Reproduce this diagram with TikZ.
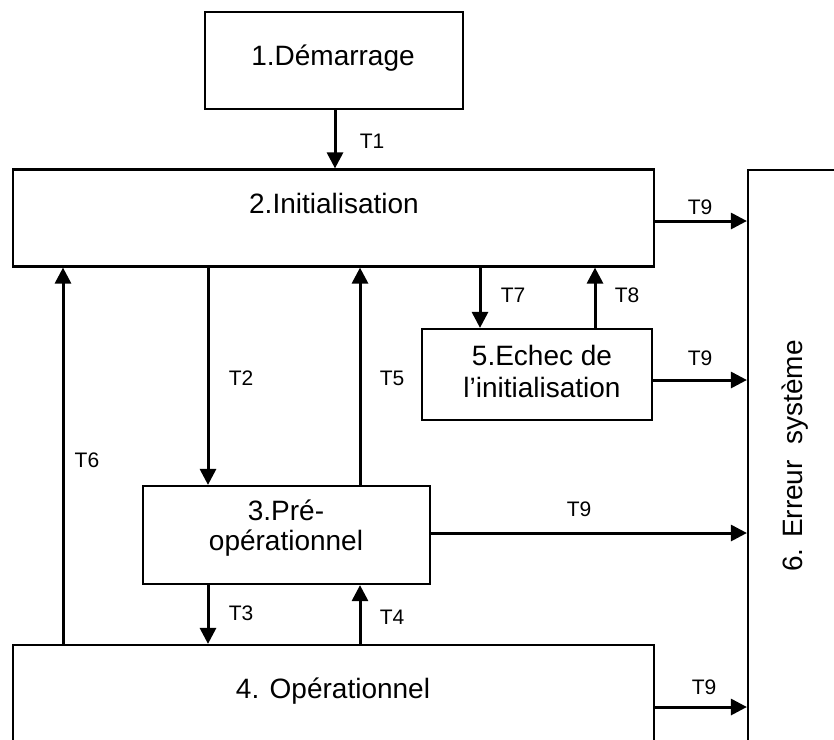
\documentclass[tikz,border=0pt]{standalone}
\usepackage{fontspec}
\setmainfont{Liberation Sans}
\usetikzlibrary{arrows.meta}

\begin{document}
\begin{tikzpicture}[x=1pt,y=-1pt,
  state/.style={draw=black, line width=2.2pt, rectangle, inner sep=0pt, fill=none},
  title/.style={font=\fontsize{28}{31}\selectfont, text=black, align=center, inner sep=0pt},
  tlabel/.style={font=\fontsize{21}{24}\selectfont, text=black, inner sep=0pt},
  arr/.style={line width=3pt, -{Triangle[length=16pt,width=16pt]}}]

\useasboundingbox (0,0) rectangle (834,739);
\clip (0,0) rectangle (834,739);

% state boxes (the last two run past the frame)
\node[state, minimum width=258pt, minimum height=97pt] (start) at (334,60.5) {};
\node[state, minimum width=641pt, minimum height=97pt] (init) at (333.5,218) {};
\node[state, minimum width=287pt, minimum height=98pt] (preop) at (286.5,535) {};
\node[state, minimum width=641pt, minimum height=155pt] (oper) at (333.5,722.5) {};
\node[state, minimum width=230pt, minimum height=91pt] (fail) at (537,374.5) {};
\node[state, minimum width=152pt, minimum height=630pt] (err) at (824,485) {};

% box titles (base anchor of a two-line title sits on its last line)
\node[title, anchor=base] (tstart) at (333,65) {1.Démarrage};
\node[title, anchor=base] (tinit) at (334,213) {2.Initialisation};
\node[title, anchor=base, font=\fontsize{28}{30}\selectfont] (tpreop) at (286,550) {3.Pré-\\opérationnel};
\node[title, anchor=base] (toper) at (333,698) {4. Opérationnel};
\node[title, anchor=base, font=\fontsize{28}{32}\selectfont] (tfail) at (542,397) {5.Echec de\\l’initialisation};
\node[title, rotate=90] (terr) at (795,456) {6. Erreur\ \ système};

% vertical connector columns
\coordinate (x1) at (335,0);
\coordinate (x2) at (208,0);
\coordinate (x5) at (360,0);
\coordinate (x6) at (63,0);
\coordinate (x7) at (480,0);
\coordinate (x8) at (595,0);
% horizontal connector rows
\coordinate (y9a) at (0,221);
\coordinate (y9b) at (0,380);
\coordinate (y9c) at (0,533);
\coordinate (y9d) at (0,707);

% transitions
\draw[arr] (x1 |- start.south) -- (x1 |- init.north);
\draw[arr] (x2 |- init.south) -- (x2 |- preop.north);
\draw[arr] (x5 |- preop.north) -- (x5 |- init.south);
\draw[arr] (x6 |- oper.north) -- (x6 |- init.south);
\draw[arr] (x2 |- preop.south) -- (x2 |- oper.north);
\draw[arr] (x5 |- oper.north) -- (x5 |- preop.south);
\draw[arr] (x7 |- init.south) -- (x7 |- fail.north);
\draw[arr] (x8 |- fail.north) -- (x8 |- init.south);
\draw[arr] (init.east |- y9a) -- (err.west |- y9a);
\draw[arr] (fail.east |- y9b) -- (err.west |- y9b);
\draw[arr] (preop.east |- y9c) -- (err.west |- y9c);
\draw[arr] (oper.east |- y9d) -- (err.west |- y9d);

% transition labels
\node[tlabel] (l1) at (372,141) {T1};
\node[tlabel] (l2) at (241,378) {T2};
\node[tlabel] (l5) at (392,378) {T5};
\node[tlabel] (l6) at (87,460) {T6};
\node[tlabel] (l7) at (513,295) {T7};
\node[tlabel] (l8) at (627,295) {T8};
\node[tlabel] (l3) at (241,613) {T3};
\node[tlabel] (l4) at (392,617) {T4};
\node[tlabel] (l9a) at (700,207) {T9};
\node[tlabel] (l9b) at (700,358) {T9};
\node[tlabel] (l9c) at (579,509) {T9};
\node[tlabel] (l9d) at (704,687) {T9};
\end{tikzpicture}
\end{document}
